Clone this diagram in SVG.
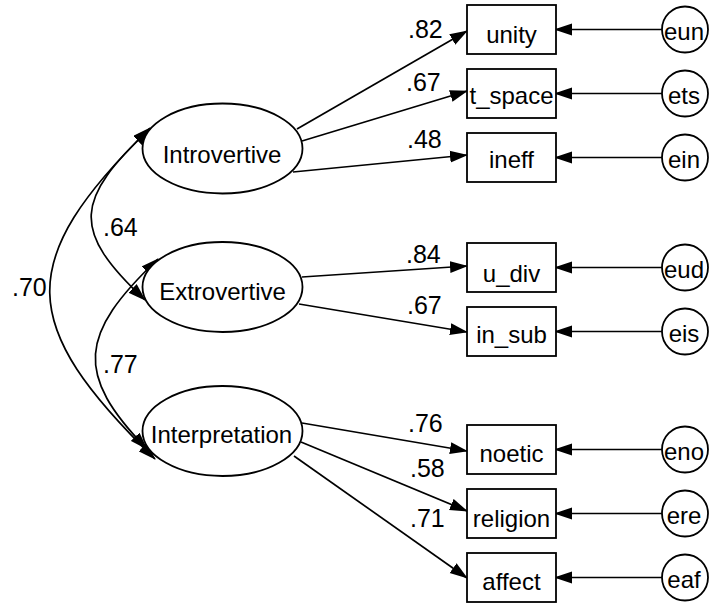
<svg xmlns="http://www.w3.org/2000/svg" width="709" height="604" viewBox="0 0 709 604">
<style>
  .shape { fill: #fff; stroke: #000; stroke-width: 1.8; }
  .conn { fill: none; stroke: #000; stroke-width: 1.7; }
  .lbl { font-family: "Liberation Sans", Arial, sans-serif; font-size: 24px; fill: #000; text-anchor: middle; }
  .num { font-family: "Liberation Sans", Arial, sans-serif; font-size: 25px; fill: #000; }
</style>
<defs>
  <marker id="ah" markerUnits="userSpaceOnUse" markerWidth="18" markerHeight="13" viewBox="0 0 18 13" refX="17" refY="6.5" orient="auto-start-reverse">
    <path d="M0,0.5 L18,6.5 L0,12.5 z" fill="#000"/>
  </marker>
</defs>
<rect width="709" height="604" fill="#fff"/>

<g id="connectors">
  <path class="conn" d="M150,128 C14,262 17,324 155,459" marker-start="url(#ah)" marker-end="url(#ah)"/>
  <path class="conn" d="M150,129 C75,199 70,230 145,300" marker-start="url(#ah)" marker-end="url(#ah)"/>
  <path class="conn" d="M158,259 C79,334 74,374 147,449" marker-start="url(#ah)" marker-end="url(#ah)"/>
  <line class="conn" x1="297" y1="129" x2="467" y2="31" marker-end="url(#ah)"/>
  <line class="conn" x1="302" y1="141" x2="467" y2="91" marker-end="url(#ah)"/>
  <line class="conn" x1="293" y1="172" x2="467" y2="155" marker-end="url(#ah)"/>
  <line class="conn" x1="302" y1="277" x2="467" y2="266" marker-end="url(#ah)"/>
  <line class="conn" x1="299" y1="304" x2="467" y2="332" marker-end="url(#ah)"/>
  <line class="conn" x1="302" y1="423" x2="467" y2="451" marker-end="url(#ah)"/>
  <line class="conn" x1="301" y1="442" x2="467" y2="511" marker-end="url(#ah)"/>
  <line class="conn" x1="294" y1="456" x2="467" y2="578" marker-end="url(#ah)"/>
  <line class="conn" x1="662" y1="29.5" x2="555" y2="29.5" marker-end="url(#ah)"/>
  <line class="conn" x1="662" y1="93.5" x2="555" y2="93.5" marker-end="url(#ah)"/>
  <line class="conn" x1="662" y1="157.5" x2="555" y2="157.5" marker-end="url(#ah)"/>
  <line class="conn" x1="662" y1="267.5" x2="555" y2="267.5" marker-end="url(#ah)"/>
  <line class="conn" x1="662" y1="331.5" x2="555" y2="331.5" marker-end="url(#ah)"/>
  <line class="conn" x1="662" y1="449.5" x2="555" y2="449.5" marker-end="url(#ah)"/>
  <line class="conn" x1="662" y1="513.5" x2="555" y2="513.5" marker-end="url(#ah)"/>
  <line class="conn" x1="662" y1="577.5" x2="555" y2="577.5" marker-end="url(#ah)"/>
  <text class="num" x="408" y="38">.82</text>
  <text class="num" x="406" y="91">.67</text>
  <text class="num" x="407" y="148">.48</text>
  <text class="num" x="406" y="263">.84</text>
  <text class="num" x="407" y="314">.67</text>
  <text class="num" x="408" y="432">.76</text>
  <text class="num" x="410" y="477">.58</text>
  <text class="num" x="410" y="527">.71</text>
  <text class="num" x="103" y="236">.64</text>
  <text class="num" x="103" y="373">.77</text>
  <text class="num" x="12" y="296">.70</text>
</g>

<g id="Introvertive"><ellipse class="shape" cx="222.5" cy="148.5" rx="80" ry="45"/><text class="lbl" x="222" y="163">Introvertive</text></g>
<g id="Extrovertive"><ellipse class="shape" cx="222.5" cy="287" rx="80" ry="45"/><text class="lbl" x="222.5" y="300">Extrovertive</text></g>
<g id="Interpretation"><ellipse class="shape" cx="222.5" cy="431" rx="80" ry="45"/><text class="lbl" x="221.5" y="443">Interpretation</text></g>

<g id="unity"><rect class="shape" x="467" y="5" width="89" height="49"/><text class="lbl" x="511.5" y="43">unity</text></g>
<g id="t_space"><rect class="shape" x="467" y="69" width="89" height="49"/><text class="lbl" x="511.5" y="104">t_space</text></g>
<g id="ineff"><rect class="shape" x="467" y="133" width="89" height="49"/><text class="lbl" x="511.5" y="168">ineff</text></g>
<g id="u_div"><rect class="shape" x="467" y="243" width="89" height="49"/><text class="lbl" x="511.5" y="282">u_div</text></g>
<g id="in_sub"><rect class="shape" x="467" y="307" width="89" height="49"/><text class="lbl" x="511.5" y="343">in_sub</text></g>
<g id="noetic"><rect class="shape" x="467" y="425" width="89" height="49"/><text class="lbl" x="511.5" y="462">noetic</text></g>
<g id="religion"><rect class="shape" x="467" y="489" width="89" height="49"/><text class="lbl" x="511.5" y="527">religion</text></g>
<g id="affect"><rect class="shape" x="467" y="553" width="89" height="49"/><text class="lbl" x="511.5" y="590">affect</text></g>

<g id="eun"><circle class="shape" cx="685" cy="29.5" r="23"/><text class="lbl" x="684" y="40">eun</text></g>
<g id="ets"><circle class="shape" cx="685" cy="93.5" r="23"/><text class="lbl" x="684" y="104">ets</text></g>
<g id="ein"><circle class="shape" cx="685" cy="157.5" r="23"/><text class="lbl" x="684" y="168">ein</text></g>
<g id="eud"><circle class="shape" cx="685" cy="267.5" r="23"/><text class="lbl" x="684" y="278">eud</text></g>
<g id="eis"><circle class="shape" cx="685" cy="331.5" r="23"/><text class="lbl" x="684" y="342">eis</text></g>
<g id="eno"><circle class="shape" cx="685" cy="449.5" r="23"/><text class="lbl" x="684" y="460">eno</text></g>
<g id="ere"><circle class="shape" cx="685" cy="513.5" r="23"/><text class="lbl" x="684" y="524">ere</text></g>
<g id="eaf"><circle class="shape" cx="685" cy="577.5" r="23"/><text class="lbl" x="684" y="588">eaf</text></g>
</svg>
